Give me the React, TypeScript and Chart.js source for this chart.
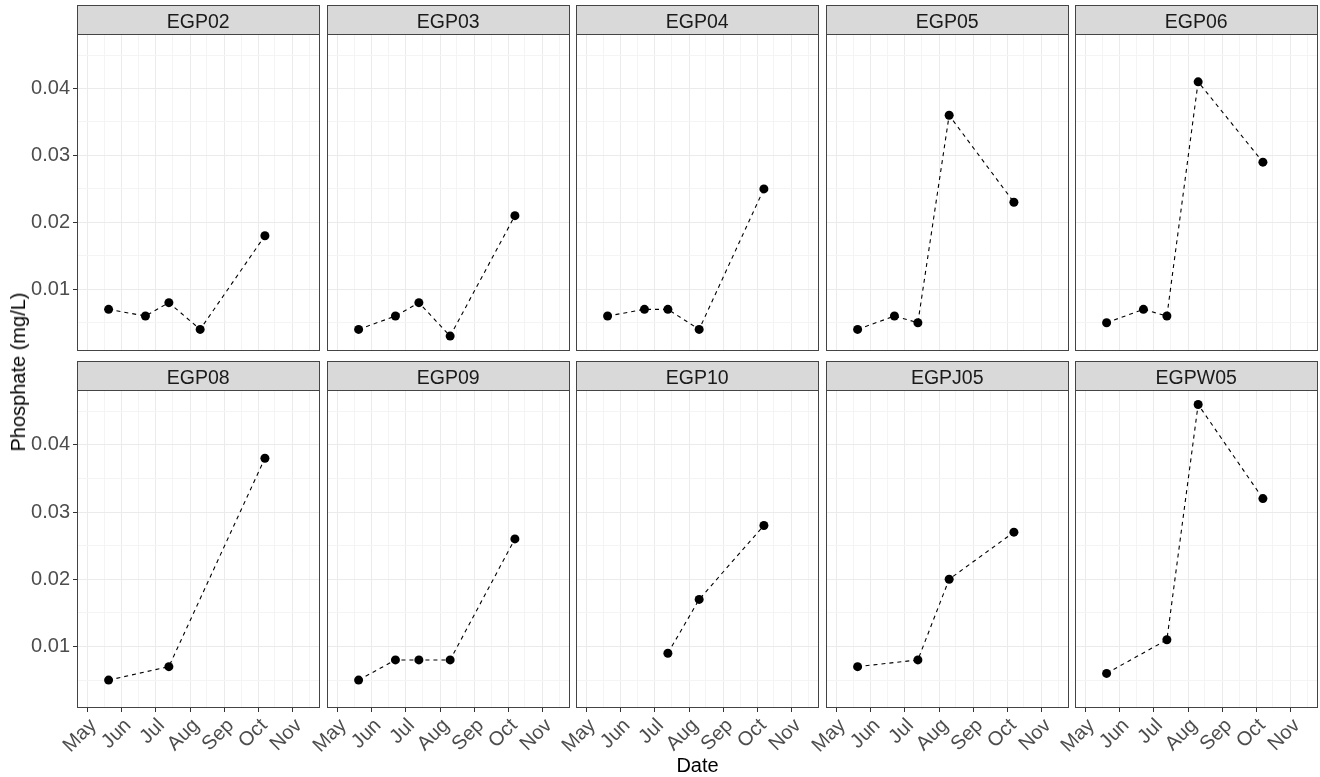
import React, { useEffect, useRef } from "react";
import { Chart, registerables } from "chart.js";

Chart.register(...registerables);
Chart.defaults.font.family = '"Liberation Sans", Arial, sans-serif';

// ---------- DATA ----------
const SITES = ["EGP02", "EGP03", "EGP04", "EGP05", "EGP06", "EGP08", "EGP09", "EGP10", "EGPJ05", "EGPW05"];

const EGP02_DATES = ["2021-05-20", "2021-06-22", "2021-07-13", "2021-08-10", "2021-10-07"];
const EGP02_VALUES = [0.007, 0.006, 0.008, 0.004, 0.018];

const EGP03_DATES = ["2021-05-20", "2021-06-22", "2021-07-13", "2021-08-10", "2021-10-07"];
const EGP03_VALUES = [0.004, 0.006, 0.008, 0.003, 0.021];

const EGP04_DATES = ["2021-05-20", "2021-06-22", "2021-07-13", "2021-08-10", "2021-10-07"];
const EGP04_VALUES = [0.006, 0.007, 0.007, 0.004, 0.025];

const EGP05_DATES = ["2021-05-20", "2021-06-22", "2021-07-13", "2021-08-10", "2021-10-07"];
const EGP05_VALUES = [0.004, 0.006, 0.005, 0.036, 0.023];

const EGP06_DATES = ["2021-05-20", "2021-06-22", "2021-07-13", "2021-08-10", "2021-10-07"];
const EGP06_VALUES = [0.005, 0.007, 0.006, 0.041, 0.029];

const EGP08_DATES = ["2021-05-20", "2021-07-13", "2021-10-07"];
const EGP08_VALUES = [0.005, 0.007, 0.038];

const EGP09_DATES = ["2021-05-20", "2021-06-22", "2021-07-13", "2021-08-10", "2021-10-07"];
const EGP09_VALUES = [0.005, 0.008, 0.008, 0.008, 0.026];

const EGP10_DATES = ["2021-07-13", "2021-08-10", "2021-10-07"];
const EGP10_VALUES = [0.009, 0.017, 0.028];

const EGPJ05_DATES = ["2021-05-20", "2021-07-13", "2021-08-10", "2021-10-07"];
const EGPJ05_VALUES = [0.007, 0.008, 0.02, 0.027];

const EGPW05_DATES = ["2021-05-20", "2021-07-13", "2021-08-10", "2021-10-07"];
const EGPW05_VALUES = [0.006, 0.011, 0.046, 0.032];

const SITE_DATES = [EGP02_DATES, EGP03_DATES, EGP04_DATES, EGP05_DATES, EGP06_DATES, EGP08_DATES, EGP09_DATES, EGP10_DATES, EGPJ05_DATES, EGPW05_DATES];
const SITE_VALUES = [EGP02_VALUES, EGP03_VALUES, EGP04_VALUES, EGP05_VALUES, EGP06_VALUES, EGP08_VALUES, EGP09_VALUES, EGP10_VALUES, EGPJ05_VALUES, EGPW05_VALUES];

const MONTH_TICKS = ["2021-05-01", "2021-06-01", "2021-07-01", "2021-08-01", "2021-09-01", "2021-10-01", "2021-11-01"];
const MONTH_LABELS = ["May", "Jun", "Jul", "Aug", "Sep", "Oct", "Nov"];
const MONTH_MINOR = ["2021-05-16", "2021-06-16", "2021-07-16", "2021-08-16", "2021-09-16", "2021-10-16", "2021-11-16"];

const Y_MAJOR = [0.01, 0.02, 0.03, 0.04];
const Y_LABELS = ["0.01", "0.02", "0.03", "0.04"];
const Y_MINOR = [0.005, 0.015, 0.025, 0.035, 0.045];

const Y_MIN = 0.00085;
const Y_MAX = 0.04815;
const X_START = "2021-05-01";
const X_END = "2021-11-01";
const X_PAD_BEFORE_DAYS = 9.3;
const X_PAD_AFTER_DAYS = 23.9;

// ---------- LAYOUT ----------
const COL_LEFT = [77, 327, 576, 826, 1075];
const PANEL_W = 243;
const ROW_STRIP_TOP = [5, 361];
const STRIP_H = 29;
const PANEL_H = 318;
const FONT = '"Liberation Sans", Arial, sans-serif';

const day = (s: string) => {
  const [y, m, d] = s.split("-").map(Number);
  return Date.UTC(y, m - 1, d) / 86400000;
};

const xLabelMap = new Map<number, string>();
MONTH_TICKS.forEach((d, i) => xLabelMap.set(day(d), MONTH_LABELS[i]));
const X_ALL = [...MONTH_TICKS.map(day), ...MONTH_MINOR.map(day)].sort((a, b) => a - b);

const yLabelMap = new Map<number, string>();
Y_MAJOR.forEach((v, i) => yLabelMap.set(v, Y_LABELS[i]));
const Y_ALL = [...Y_MAJOR, ...Y_MINOR].sort((a, b) => a - b);

function Panel({ index }: { index: number }) {
  const ref = useRef<HTMLCanvasElement>(null);
  const col = index % 5;
  const row = Math.floor(index / 5);
  const padL = col === 0 ? 77 : 45;
  const xH = row === 1 ? 66 : 3;
  const width = padL + PANEL_W + 4;
  const height = 2 + STRIP_H + PANEL_H + xH;
  const left = COL_LEFT[col] - padL;
  const top = ROW_STRIP_TOP[row] - 2;
  const showX = row === 1;
  const showY = col === 0;
  const title = SITES[index];

  useEffect(() => {
    if (!ref.current) return;
    const dates = SITE_DATES[index];
    const values = SITE_VALUES[index];
    const decor = {
      id: "panelDecor" + index,
      afterDraw(chart: any) {
        const { ctx, chartArea: a } = chart;
        ctx.save();
        const l = Math.round(a.left) + 0.5;
        const r = Math.round(a.right) - 0.5;
        const t = Math.round(a.top) + 0.5;
        const b = Math.round(a.bottom) - 0.5;
        ctx.strokeStyle = "#444444";
        ctx.lineWidth = 1;
        ctx.strokeRect(l, t, r - l, b - t);
        const st = Math.round(a.top) - STRIP_H + 0.5;
        ctx.fillStyle = "#D9D9D9";
        ctx.fillRect(l, st, r - l, STRIP_H);
        ctx.strokeRect(l, st, r - l, STRIP_H);
        ctx.fillStyle = "#1A1A1A";
        ctx.font = "19.5px " + FONT;
        ctx.textAlign = "center";
        ctx.textBaseline = "alphabetic";
        ctx.fillText(title, (a.left + a.right) / 2, Math.round(a.top) - STRIP_H + 22.7);
        ctx.restore();
      },
    };
    const chart = new Chart(ref.current, {
      type: "line",
      data: {
        datasets: [
          {
            data: dates.map((d, i) => ({ x: day(d), y: values[i] })),
            borderColor: "#000000",
            borderWidth: 1.1,
            borderDash: [4, 4],
            pointRadius: 4.5,
            pointBorderWidth: 0,
            pointBackgroundColor: "#000000",
            pointBorderColor: "#000000",
            tension: 0,
            fill: false,
          },
        ],
      },
      options: {
        animation: false,
        responsive: false,
        maintainAspectRatio: false,
        events: [],
        layout: { padding: { left: 0, top: 2 + STRIP_H, right: 4, bottom: 0 } },
        plugins: { legend: { display: false }, tooltip: { enabled: false }, title: { display: false } },
        scales: {
          x: {
            type: "linear",
            min: day(X_START) - X_PAD_BEFORE_DAYS,
            max: day(X_END) + X_PAD_AFTER_DAYS,
            afterBuildTicks: (s: any) => {
              s.ticks = X_ALL.map((v) => ({ value: v }));
            },
            afterFit: (s: any) => {
              s.height = xH;
              s.paddingLeft = 0;
              s.paddingRight = 0;
            },
            ticks: {
              display: showX,
              autoSkip: false,
              minRotation: 45,
              maxRotation: 45,
              padding: 2,
              labelOffset: 6,
              color: "#4D4D4D",
              font: { size: 20 },
              callback: (v: any) => xLabelMap.get(v) ?? "",
            },
            grid: {
              color: (c: any) => (xLabelMap.has(c.tick?.value) ? "#EBEBEB" : "#F4F4F4"),
              lineWidth: 1,
              drawTicks: showX,
              tickLength: 4,
              tickColor: (c: any) => (xLabelMap.has(c.tick?.value) ? "#333333" : "rgba(0,0,0,0)"),
            },
            border: { display: false },
          },
          y: {
            type: "linear",
            min: Y_MIN,
            max: Y_MAX,
            afterBuildTicks: (s: any) => {
              s.ticks = Y_ALL.map((v) => ({ value: v }));
            },
            afterFit: (s: any) => {
              s.width = padL;
              s.paddingTop = 0;
              s.paddingBottom = 0;
            },
            ticks: {
              display: showY,
              autoSkip: false,
              padding: 3,
              color: "#4D4D4D",
              font: { size: 20 },
              callback: (v: any) => yLabelMap.get(v) ?? "",
            },
            grid: {
              color: (c: any) => (yLabelMap.has(c.tick?.value) ? "#EBEBEB" : "#F4F4F4"),
              lineWidth: 1,
              drawTicks: showY,
              tickLength: 4,
              tickColor: (c: any) => (yLabelMap.has(c.tick?.value) ? "#333333" : "rgba(0,0,0,0)"),
            },
            border: { display: false },
          },
        },
      } as any,
      plugins: [decor],
    });
    return () => chart.destroy();
  }, []);

  return (
    <canvas
      ref={ref}
      width={width}
      height={height}
      style={{ position: "absolute", left, top, width, height }}
    />
  );
}

export default function App() {
  return (
    <div
      style={{
        position: "fixed",
        left: 0,
        top: 0,
        width: 1320,
        height: 777,
        background: "#ffffff",
        overflow: "hidden",
        fontFamily: FONT,
      }}
    >
      {SITES.map((s, i) => (
        <Panel key={s} index={i} />
      ))}
      <div
        style={{
          position: "absolute",
          left: 697.5,
          top: 753,
          transform: "translateX(-50%)",
          fontSize: 20,
          lineHeight: "24px",
          color: "#000",
          whiteSpace: "nowrap",
        }}
      >
        Date
      </div>
      <div
        style={{
          position: "absolute",
          left: 18,
          top: 371.5,
          transform: "translate(-50%, -50%) rotate(-90deg)",
          fontSize: 20,
          lineHeight: "24px",
          color: "#000",
          whiteSpace: "nowrap",
        }}
      >
        Phosphate (mg/L)
      </div>
    </div>
  );
}
